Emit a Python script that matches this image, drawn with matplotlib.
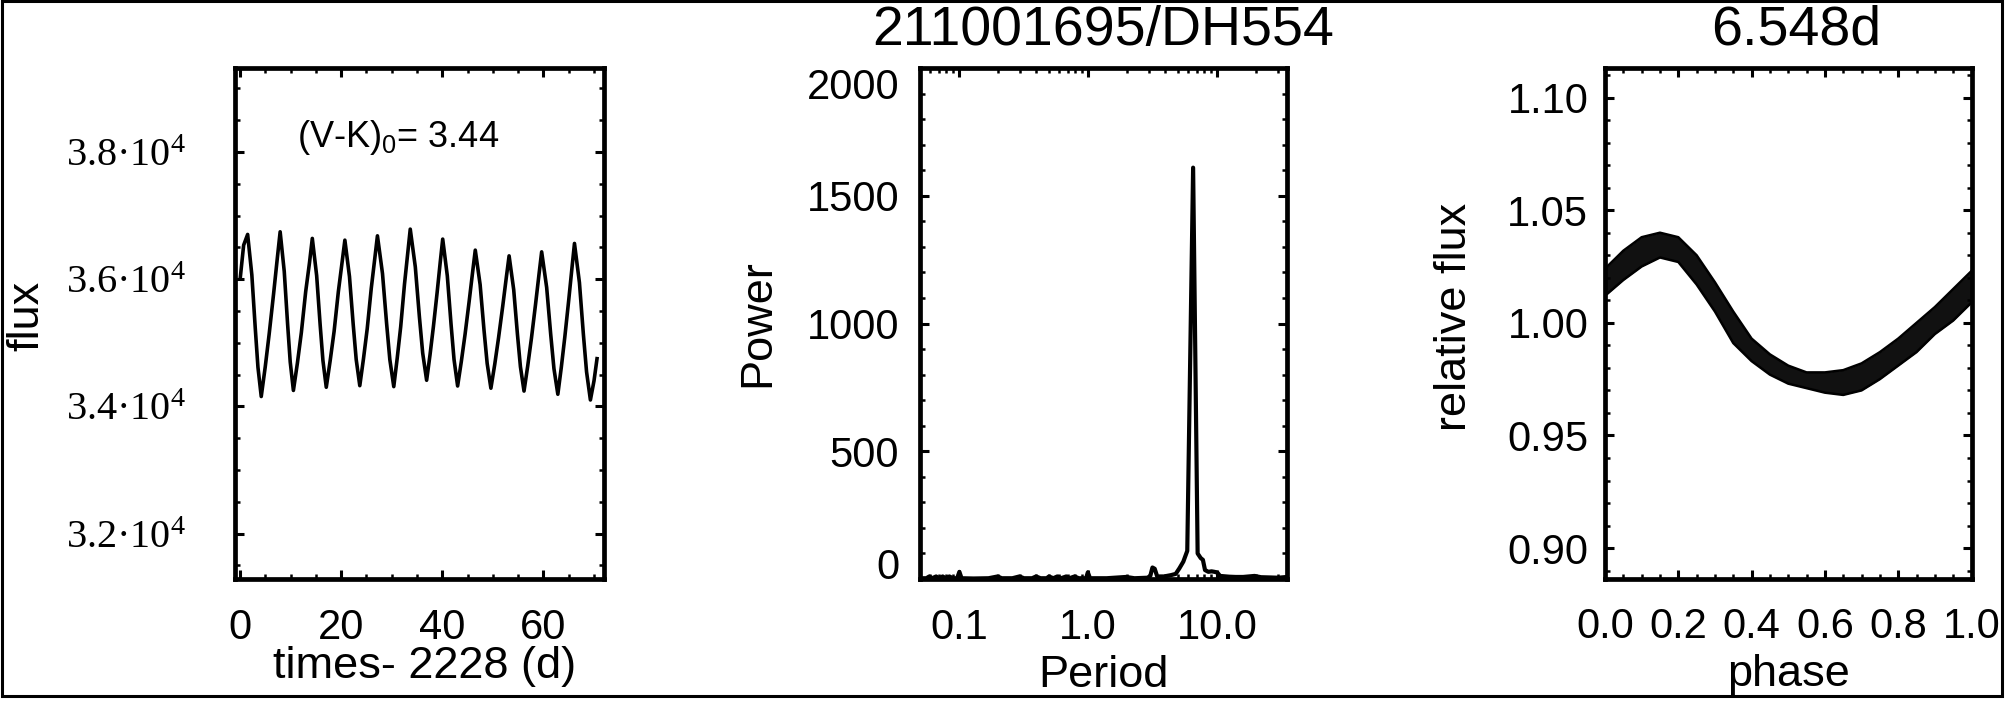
import numpy as np
import matplotlib
matplotlib.use("Agg")
import matplotlib.pyplot as plt
from matplotlib.ticker import (MultipleLocator, FixedLocator, FixedFormatter,
                               LogLocator, NullFormatter, FuncFormatter)
from matplotlib.patches import Rectangle

plt.rcParams['font.family'] = ['Liberation Sans', 'DejaVu Sans']
plt.rcParams['mathtext.default'] = 'regular'

# ---------------- data ----------------
title_main = "211001695/DH554"
title_period = "6.548d"
vk_text = "(V-K)$_0$= 3.44"

# light curve: time - 2228 (d), flux
time_d = [0.06, 0.71, 1.50, 2.33, 3.01, 3.54, 4.19, 4.98, 5.76, 6.62, 7.37,
          7.93, 8.74, 9.40, 9.92, 10.55, 11.34, 12.12, 12.98, 13.73,
          14.29, 15.15, 15.84, 16.39, 17.05, 17.82, 18.60, 19.44, 20.18,
          20.73, 21.64, 22.38, 22.97, 23.68, 24.41, 25.15, 25.95, 26.65,
          27.17, 28.17, 28.98, 29.62, 30.40, 31.08, 31.77, 32.52, 33.17,
          33.66, 34.66, 35.47, 36.12, 36.90, 37.57, 38.24, 38.97, 39.60,
          40.08, 40.99, 41.73, 42.32, 43.03, 43.76, 44.50, 45.30, 46.00,
          46.52, 47.48, 48.25, 48.87, 49.61, 50.37, 51.12, 51.95, 52.67,
          53.21, 54.12, 54.86, 55.45, 56.16, 56.89, 57.63, 58.43, 59.13,
          59.65, 60.64, 61.44, 62.08, 62.85, 63.54, 64.23, 64.99, 65.65,
          66.14, 67.12, 67.90, 68.53, 69.29, 70.00, 70.60]
flux = [36036, 36535, 36704, 36067, 35226, 34614, 34155, 34621, 35139, 35761, 36331,
        36745, 36121, 35298, 34699, 34250, 34680, 35159, 35804, 36258,
        36641, 36056, 35283, 34721, 34300, 34717, 35179, 35804, 36267,
        36614, 36042, 35286, 34737, 34325, 34749, 35221, 35857, 36328,
        36682, 36089, 35306, 34737, 34310, 34756, 35251, 35920, 36415,
        36787, 36193, 35408, 34838, 34410, 34810, 35254, 35786, 36275,
        36630, 36052, 35290, 34736, 34320, 34705, 35132, 35645, 36115,
        36457, 35914, 35197, 34676, 34285, 34660, 35076, 35576, 36034,
        36367, 35835, 35133, 34623, 34240, 34634, 35072, 35598, 36080,
        36430, 35870, 35131, 34593, 34190, 34617, 35091, 35661, 36182,
        36562, 35946, 35134, 34543, 34100, 34400, 34750]

# periodogram: period (d), power
period_d = [0.050, 0.056, 0.059, 0.062, 0.0667, 0.070, 0.075, 0.079, 0.0845, 0.090,
            0.097, 0.101, 0.105, 0.13, 0.17, 0.20, 0.215, 0.26, 0.295, 0.32,
            0.37, 0.397, 0.43, 0.48, 0.50, 0.54, 0.58, 0.62, 0.68, 0.72,
            0.79, 0.85, 0.97, 1.00, 1.04, 1.4, 1.98, 2.3, 2.9, 3.05,
            3.17, 3.3, 3.45, 3.9, 4.4, 4.8, 5.13, 5.5, 5.9, 6.55,
            7.1, 7.5, 7.8, 8.1, 8.6, 9.1, 9.6, 10.1, 10.6, 12.5,
            14.0, 16.0, 19.6, 22.0, 26.0, 30.0, 35.0]
power = [3, 3, 10, 3, 10, 3, 10, 3, 10, 3,
         3, 28, 3, 2, 3, 10, 3, 3, 10, 3,
         3, 10, 3, 3, 10, 3, 10, 3, 10, 3,
         10, 3, 3, 26, 3, 3, 8, 3, 5, 12,
         45, 40, 10, 10, 15, 20, 42, 68, 110, 1610,
         100, 82, 75, 35, 28, 30, 28, 25, 12, 9,
         8, 8, 12, 7, 6, 5, 8]

# phase-folded curve (P = 6.548 d): upper and lower edge of the band of points
phase = [0.00, 0.05, 0.10, 0.15, 0.20, 0.25, 0.30, 0.35, 0.40, 0.45, 0.50,
         0.55, 0.60, 0.65, 0.70, 0.75, 0.80, 0.85, 0.90, 0.95, 1.00]
rel_upper = [1.024, 1.032, 1.038, 1.040, 1.038, 1.030, 1.018, 1.005, 0.993, 0.986, 0.981,
             0.978, 0.978, 0.979, 0.982, 0.987, 0.993, 1.000, 1.007, 1.015, 1.023]
rel_lower = [1.012, 1.019, 1.025, 1.029, 1.027, 1.017, 1.005, 0.991, 0.983, 0.977, 0.973,
             0.971, 0.969, 0.968, 0.970, 0.975, 0.981, 0.987, 0.995, 1.001, 1.009]

flux_ticks = [32000, 34000, 36000, 38000]
time_ticks = [0, 20, 40, 60]
power_ticks = [0, 500, 1000, 1500, 2000]
period_ticks = [0.1, 1.0, 10.0]
period_ticklabels = ["0.1", "1.0", "10.0"]
phase_ticks = [0.0, 0.2, 0.4, 0.6, 0.8, 1.0]
rel_ticks = [0.90, 0.95, 1.00, 1.05, 1.10]

# ---------------- figure ----------------
W, H = 2005, 703
fig = plt.figure(figsize=(W / 100, H / 100), dpi=100, facecolor='white')

def px_axes(x0, x1, ytop, ybot):
    return fig.add_axes([x0 / W, (H - ybot) / H, (x1 - x0) / W, (ybot - ytop) / H])

ax1 = px_axes(235, 603.6, 68, 579)
ax2 = px_axes(920, 1287, 68, 579)
ax3 = px_axes(1605, 1971.5, 68, 579)

TICK_FS = 30
LABEL_FS = 32.5

def style(ax):
    for s in ax.spines.values():
        s.set_linewidth(3.4)
    ax.tick_params(which='both', direction='in', top=True, right=True,
                   labelsize=TICK_FS)
    ax.tick_params(which='major', length=6.5, width=2.2)
    ax.tick_params(which='minor', length=3.5, width=1.8)

# ---- left: light curve ----
ax1.plot(time_d, flux, color='black', lw=2.6)
ax1.set_xlim(-1.0, 71.9)
ax1.set_ylim(31285, 39321)
style(ax1)
ax1.xaxis.set_major_locator(FixedLocator(time_ticks))
ax1.xaxis.set_minor_locator(MultipleLocator(5))
ax1.yaxis.set_major_locator(FixedLocator(flux_ticks))
ax1.yaxis.set_minor_locator(MultipleLocator(500))
ax1.yaxis.set_major_formatter(FuncFormatter(
    lambda v, p: "%.1f\u00b710$^{4}$" % (v / 1e4)))
ax1.tick_params(axis='x', pad=21)
ax1.tick_params(axis='y', pad=35, labelsize=29, labelfontfamily='Liberation Serif')
ax1.set_xlabel("times- 2228 (d)", fontsize=LABEL_FS, va='baseline')
ax1.xaxis.set_label_coords(0.515, -0.1937)
ax1.set_ylabel("flux", fontsize=LABEL_FS, va='baseline')
ax1.yaxis.set_label_coords(-0.5345, 0.5147)
ax1.text(0.168, 0.845, vk_text, transform=ax1.transAxes, fontsize=26,
         va='baseline', ha='left')

# ---- middle: periodogram ----
ax2.plot(period_d, power, color='black', lw=3.0)
ax2.set_xscale('log')
ax2.set_xlim(0.05, 35)
ax2.set_ylim(0, 2000)
style(ax2)
ax2.xaxis.set_major_locator(FixedLocator(period_ticks))
ax2.xaxis.set_major_formatter(FixedFormatter(period_ticklabels))
ax2.xaxis.set_minor_locator(LogLocator(base=10, subs=np.arange(2, 10), numticks=20))
ax2.xaxis.set_minor_formatter(NullFormatter())
ax2.yaxis.set_major_locator(FixedLocator(power_ticks))
ax2.yaxis.set_major_formatter(FuncFormatter(lambda v, p: "%d" % v))
ax2.yaxis.set_minor_locator(MultipleLocator(100))
ax2.tick_params(axis='x', pad=21)
ax2.tick_params(axis='y', pad=15)
ax2.set_xlabel("Period", fontsize=LABEL_FS, va='baseline')
ax2.xaxis.set_label_coords(0.501, -0.2113)
ax2.set_ylabel("Power", fontsize=LABEL_FS, va='baseline')
ax2.yaxis.set_label_coords(-0.4114, 0.501)

# ---- right: phase-folded light curve ----
ax3.fill_between(phase, rel_lower, rel_upper, color='#111111', lw=0)
ax3.plot(phase, rel_upper, color='black', lw=1.8)
ax3.plot(phase, rel_lower, color='black', lw=1.8)
ax3.set_xlim(0, 1)
ax3.set_ylim(0.8863, 1.1131)
style(ax3)
ax3.xaxis.set_major_locator(FixedLocator(phase_ticks))
ax3.xaxis.set_major_formatter(FuncFormatter(lambda v, p: "%.1f" % v))
ax3.xaxis.set_minor_locator(MultipleLocator(0.05))
ax3.yaxis.set_major_locator(FixedLocator(rel_ticks))
ax3.yaxis.set_major_formatter(FuncFormatter(lambda v, p: "%.2f" % v))
ax3.yaxis.set_minor_locator(MultipleLocator(0.01))
ax3.tick_params(axis='x', pad=20)
ax3.tick_params(axis='y', pad=12)
ax3.set_xlabel("phase", fontsize=LABEL_FS, va='baseline')
ax3.xaxis.set_label_coords(0.502, -0.2094)
ax3.set_ylabel("relative flux", fontsize=LABEL_FS, va='baseline')
ax3.yaxis.set_label_coords(-0.3793, 0.5127)

# titles
fig.text(1103 / W, 1 - 44.6 / H, title_main, ha='center', va='baseline', fontsize=40)
fig.text(1796 / W, 1 - 44.6 / H, title_period, ha='center', va='baseline', fontsize=40)

# middle panel: end labels pulled inside like the reference
ticks = ax2.yaxis.get_major_ticks()
ticks[0].label1.set_va('baseline')
ticks[-1].label1.set_va('top')

# frame around the whole figure
fig.add_artist(Rectangle((0.00075, 0.00925), 0.998, 0.98865, transform=fig.transFigure,
                         fill=False, lw=2.2, ec='black'))

fig.savefig("out.png", dpi=100, facecolor='white')
